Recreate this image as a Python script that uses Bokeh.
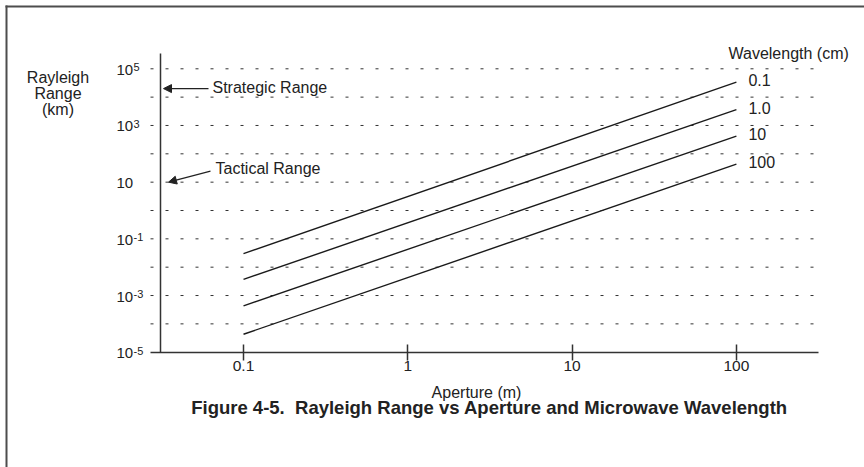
import math
from bokeh.plotting import figure
from bokeh.models import Range1d, FixedTicker, LogAxis, Label, Arrow, NormalHead
from bokeh.embed import file_html
from bokeh.resources import INLINE

# ---------------- data ----------------
aperture_m = [0.1, 100]
range_wl_0p1 = [0.030, 34000]
range_wl_1 = [0.0037, 3650]
range_wl_10 = [0.00043, 420]
range_wl_100 = [0.000043, 43]
wavelength_labels = ["0.1", "1.0", "10", "100"]

x_ticks = [0.1, 1, 10, 100]
x_tick_labels = ["0.1", "1", "10", "100"]
y_grid_exponents = [-4, -3, -2, -1, 0, 1, 2, 3, 4, 5]
y_label_exponents = [5, 3, 1, -1, -3, -5]

strategic_range_km = 2.0e4
tactical_range_km = 10.0

# ---------------- layout (canvas pixels) ----------------
W, H = 864, 467
PXD_X = 164.3      # pixels per decade of aperture
X_01_PX = 243.0    # canvas x of aperture 0.1 m
PXD_Y = 28.34      # pixels per decade of range
Y_MIN_PX = 351.7   # canvas y of 1e-5 km (x axis)

FONT = "Liberation Sans"
TXT = "#222222"
AX = "#333333"


def X(px):
    return 10 ** (-1 + (px - X_01_PX) / PXD_X)


def Y(py):
    return 10 ** (-5 + (Y_MIN_PX - py) / PXD_Y)


p = figure(width=W, height=H, x_axis_type="log", y_axis_type="log",
           x_range=Range1d(X(0), X(W)), y_range=Range1d(Y(H), Y(0)),
           x_axis_location=None, y_axis_location=None, title=None,
           output_backend="svg", toolbar_location=None, min_border=0)
p.outline_line_color = "white"
p.outline_line_alpha = 0
p.outline_line_width = 0
p.background_fill_color = "white"
p.border_fill_color = "white"
p.grid.visible = False

# page frame (top and left rules)
p.multi_line(xs=[[X(5), X(W)], [X(6), X(6)]], ys=[[Y(6), Y(6)], [Y(5), Y(H)]],
             line_color="#4d4d4d", line_width=2)

# dotted decade grid
grid_y = [10.0 ** e for e in y_grid_exponents]
p.multi_line(xs=[[X(150), X(818)] for _ in grid_y], ys=[[g, g] for g in grid_y],
             line_color=AX, line_width=1, line_dash="3 12")

# x axis
xa = LogAxis(fixed_location=Y(Y_MIN_PX), bounds=(X(150), X(818)))
xa.ticker = FixedTicker(ticks=x_ticks)
xa.major_label_overrides = {float(t): s for t, s in zip(x_ticks, x_tick_labels)}
xa.axis_line_color = AX
xa.axis_line_width = 1.5
xa.major_tick_in = 8
xa.major_tick_out = 8
xa.major_tick_line_color = AX
xa.major_tick_line_width = 1.5
xa.minor_tick_line_color = None
xa.major_label_text_font = FONT
xa.major_label_text_font_size = "15.5px"
xa.major_label_text_color = TXT
xa.major_label_standoff = 1
p.add_layout(xa, "below")

# y axis (line only; labels drawn below)
ya = LogAxis(fixed_location=X(160), bounds=(Y(Y_MIN_PX), Y(53)))
ya.ticker = FixedTicker(ticks=[])
ya.axis_line_color = AX
ya.axis_line_width = 1.5
ya.major_tick_line_color = None
ya.minor_tick_line_color = None
ya.major_label_text_font_size = "0px"
p.add_layout(ya, "left")

# y tick labels (10 with superscript exponent)
for e in y_label_exponents:
    p.add_layout(Label(x=X(116), y=10.0 ** e, text="10", y_offset=-1,
                       text_baseline="middle", text_align="left", text_font=FONT,
                       text_font_size="15px", text_color=TXT))
    if e != 1:
        p.add_layout(Label(x=X(133), y=10.0 ** e, text=str(e), y_offset=1.5,
                           text_baseline="middle", text_align="left", text_font=FONT,
                           text_font_size="11px", text_color=TXT))

# series lines and their labels
for vals, lab in zip([range_wl_0p1, range_wl_1, range_wl_10, range_wl_100], wavelength_labels):
    p.line(aperture_m, vals, line_color="#1a1a1a", line_width=1.4)
    p.add_layout(Label(x=aperture_m[-1], y=vals[-1], text=lab, x_offset=12, y_offset=2,
                       text_baseline="middle", text_align="left", text_font=FONT,
                       text_font_size="16px", text_color=TXT))

p.add_layout(Label(x=X(728), y=Y(53), text="Wavelength (cm)",
                   text_baseline="alphabetic", text_align="left", text_font=FONT,
                   text_font_size="16px", text_color=TXT))

# y axis title
p.add_layout(Label(x=X(57.5), y=Y(68), text="Rayleigh\nRange\n(km)",
                   text_baseline="top", text_align="center", text_font=FONT,
                   text_font_size="16px", text_color=TXT, text_line_height=0.95))

# range annotations
p.add_layout(Arrow(end=NormalHead(size=8, fill_color="#222222", line_color="#222222", line_width=1),
                   x_start=X(208), y_start=strategic_range_km,
                   x_end=X(163), y_end=strategic_range_km,
                   line_color="#222222", line_width=1.2))
p.add_layout(Label(x=X(212), y=strategic_range_km, text="Strategic Range", y_offset=1.5,
                   text_baseline="middle", text_align="left", text_font=FONT,
                   text_font_size="16px", text_color=TXT))

p.add_layout(Arrow(end=NormalHead(size=8, fill_color="#222222", line_color="#222222", line_width=1),
                   x_start=X(210), y_start=Y(170.7),
                   x_end=X(168), y_end=tactical_range_km,
                   line_color="#222222", line_width=1.2))
p.add_layout(Label(x=X(215), y=Y(168), text="Tactical Range",
                   text_baseline="middle", text_align="left", text_font=FONT,
                   text_font_size="16px", text_color=TXT))

# x axis title and caption
p.add_layout(Label(x=X(476), y=Y(392), text="Aperture (m)",
                   text_baseline="alphabetic", text_align="center", text_font=FONT,
                   text_font_size="16px", text_color=TXT))
p.add_layout(Label(x=X(489), y=Y(407),
                   text="Figure 4-5.\u00a0 Rayleigh Range vs Aperture and Microwave Wavelength",
                   text_baseline="alphabetic", text_align="center",
                   text_font=FONT, text_font_size="18.5px", text_font_style="bold",
                   text_color=TXT))

open("out.html", "w").write(file_html(p, INLINE))
